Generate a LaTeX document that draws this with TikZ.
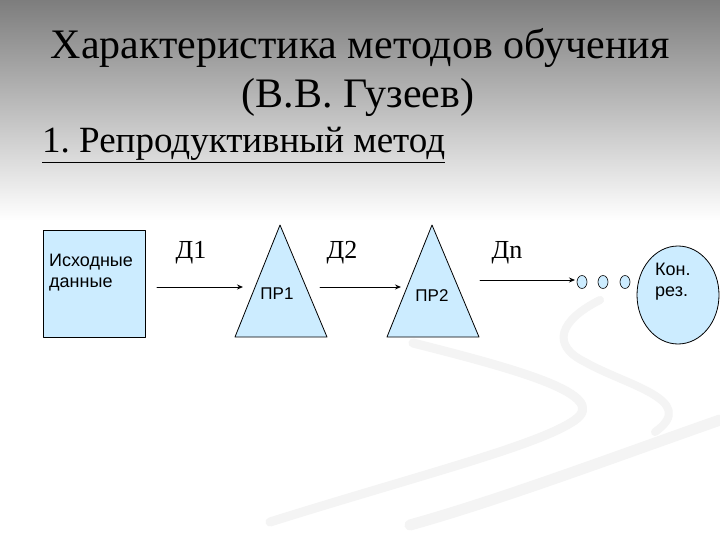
\documentclass[tikz,border=0pt]{standalone}
\usepackage{fontspec}
\setmainfont{Liberation Serif}
\newfontfamily\arialfont{Liberation Sans}
\usetikzlibrary{arrows.meta,shapes.geometric}
\definecolor{paleblue}{RGB}{204,236,255}
\definecolor{swoosh}{RGB}{244,244,244}
\tikzset{
  blockfill/.style={draw=black, fill=paleblue, line width=0.8pt},
  flow/.style={-{Stealth[length=6pt,width=5pt]}, line width=1pt},
  txt/.style={font=\arialfont\fontsize{18}{21}\selectfont, inner sep=0pt},
  dlabel/.style={font=\fontsize{26}{28}\selectfont, inner sep=0pt},
  headline/.style={font=\fontsize{42}{46}\selectfont, inner sep=0pt},
}
\frenchspacing
\begin{document}
\begin{tikzpicture}[x=1pt, y=-1pt, line join=round, line cap=round]
    \useasboundingbox (0,0) rectangle (720,540);
    % background
    \fill[white] (0,0) rectangle (720,540);
    \shade[top color={rgb,255:red,125;green,125;blue,125}, bottom color=white] (0,0) rectangle (720,220);
    \draw[swoosh, line width=9pt] (413,343) .. controls (520,370) and (610,395) .. (575,420) .. controls (540,445) and (420,475) .. (270,522);
    \draw[swoosh, line width=8pt] (600,300) .. controls (560,320) and (550,345) .. (585,362) .. controls (625,385) and (700,400) .. (655,432);
    \draw[swoosh, line width=11pt] (720,420) .. controls (620,455) and (500,500) .. (410,525);
    % headings
    \node[headline] (title) at (360,48) {Характеристика методов обучения};
    \node[headline] (author) at (358,97) {(В.В. Гузеев)};
    \node[headline, anchor=west, font=\fontsize{37}{40}\selectfont] (method) at (42,145) {\underline{1. Репродуктивный метод}};
    % scheme
    \node[blockfill, minimum width=102pt, minimum height=107pt] (src) at (94,283.5) {};
    \node[txt, anchor=north west, align=left] (srctext) at (49,254) {Исходные\\данные};
    \path
    (280,225) coordinate (A)
    (432,225) coordinate (B);
    \foreach \t/\n in {A/1,B/2}
        \draw[blockfill] (\t) -- ++(-45,112) -- ++(92,0) -- cycle;
    \node[txt, font=\arialfont\fontsize{17}{20}\selectfont] (pr1) at (277,294) {ПР1};
    \node[txt, font=\arialfont\fontsize{17}{20}\selectfont] (pr2) at (432,296) {ПР2};
    \path
    (157,287) coordinate (a1s) (243,287) coordinate (a1e)
    (320,287) coordinate (a2s) (401,287) coordinate (a2e)
    (480,280) coordinate (a3s) (575,280) coordinate (a3e);
    \draw[flow] (a1s) -- (a1e);
    \draw[flow] (a2s) -- (a2e);
    \draw[flow, line width=0.8pt] (a3s) -- (a3e);
    \node[dlabel] (d1) at (191,253) {Д1};
    \node[dlabel] (d2) at (342,253) {Д2};
    \node[dlabel] (dn) at (507,253) {Дn};
    \foreach \x/\n in {582/1,603/2,625/3}
        \node[draw, fill=paleblue, ellipse, line width=0.6pt, minimum width=10pt, minimum height=13pt, inner sep=0pt] (o\n) at (\x,282) {};
    \node[blockfill, ellipse, minimum width=82pt, minimum height=98pt, inner sep=0pt] (res) at (678,295) {};
    \node[txt, anchor=north west, align=left] (restext) at (655,263) {Кон.\\рез.};
\end{tikzpicture}
\end{document}
